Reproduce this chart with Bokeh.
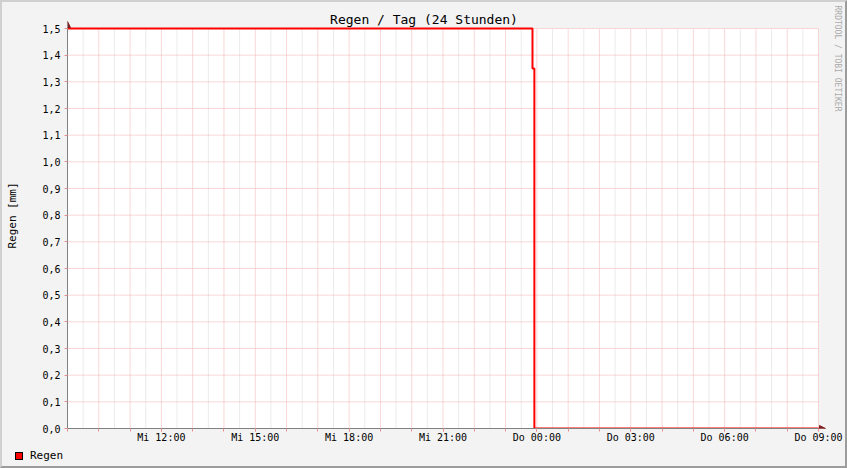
from bokeh.plotting import figure
from bokeh.layouts import column
from bokeh.models import (FixedTicker, Label, Arrow, NormalHead, Div,
                          ColumnDataSource, Range1d, BoxAnnotation)
from bokeh.embed import file_html
from bokeh.resources import INLINE

# ---- data (hours since Wednesday 00:00) ----
step_hours = [9.0, 23.86, 23.92, 33.0]
rain_mm = [1.5, 1.35, 0.0, 0.0]

x_start, x_end = 9, 33
y_start, y_end = 0.0, 1.5
x_tick_hours = [12, 15, 18, 21, 24, 27, 30, 33]
x_tick_labels = ["Mi 12:00", "Mi 15:00", "Mi 18:00", "Mi 21:00",
                 "Do 00:00", "Do 03:00", "Do 06:00", "Do 09:00"]
y_ticks = [0.0, 0.1, 0.2, 0.3, 0.4, 0.5, 0.6, 0.7, 0.8, 0.9, 1.0, 1.1, 1.2, 1.3, 1.4, 1.5]
y_tick_labels = ["0,0", "0,1", "0,2", "0,3", "0,4", "0,5", "0,6", "0,7",
                 "0,8", "0,9", "1,0", "1,1", "1,2", "1,3", "1,4", "1,5"]

title_text = "Regen / Tag (24 Stunden)"
y_label = "Regen [mm]"
series_name = "Regen"
series_color = "#ff0000"
watermark = "RRDTOOL / TOBI OETIKER"

FONT = "DejaVu Sans Mono"
BG = "#f3f3f3"
MAJOR_GRID = "#f2b0b0"
MINOR_GRID = "#d6d6d6"

W = 843
H1, H2 = 445, 19          # main chart, legend strip
LEFT, BOTTOM = 65, 19
FRAME_H = H1 - BOTTOM
PLOT_TOP_PX, PLOT_RIGHT_PX = 26, 816      # canvas px of y_end and x_end
px_per_h = (PLOT_RIGHT_PX - LEFT) / (x_end - x_start)
px_per_mm = (FRAME_H - PLOT_TOP_PX) / (y_end - y_start)
x_max = x_start + (W - LEFT) / px_per_h
y_max = y_start + FRAME_H / px_per_mm

p = figure(width=W, height=H1, output_backend="svg", toolbar_location=None,
           x_range=Range1d(x_start, x_max), y_range=Range1d(y_start, y_max),
           min_border_left=LEFT, min_border_right=0, min_border_top=0,
           min_border_bottom=BOTTOM, title=None)
p.border_fill_color = BG
p.background_fill_color = BG
p.outline_line_color = None
p.xgrid.visible = False
p.ygrid.visible = False

# white plotting area
p.add_layout(BoxAnnotation(left=x_start, right=x_end, bottom=y_start, top=y_end,
                           fill_color="white", fill_alpha=1, line_color=None,
                           level="underlay"))

# grid lines restricted to plotting area
hours_all = list(range(x_start, x_end + 1))
half_hours = [h + 0.5 for h in range(x_start, x_end)]
p.segment(x0=half_hours, x1=half_hours, y0=[y_start] * len(half_hours),
          y1=[y_end] * len(half_hours), line_color=MINOR_GRID, line_width=1, line_dash="1 1")
p.segment(x0=hours_all[1:], x1=hours_all[1:], y0=[y_start] * (len(hours_all) - 1),
          y1=[y_end] * (len(hours_all) - 1), line_color=MAJOR_GRID, line_width=1,
          line_dash="1 1")
p.segment(x0=[x_start] * (len(y_ticks) - 1), x1=[x_end] * (len(y_ticks) - 1),
          y0=y_ticks[1:], y1=y_ticks[1:], line_color=MAJOR_GRID, line_width=1,
          line_dash="1 1")

# x axis
p.xaxis.ticker = FixedTicker(ticks=x_tick_hours, minor_ticks=hours_all)
p.xaxis.major_label_overrides = {h: l for h, l in zip(x_tick_hours, x_tick_labels)}
p.xaxis.bounds = (x_start, x_end)
p.xaxis.axis_line_color = "#808080"
p.xaxis.major_tick_line_color = "#e89090"
p.xaxis.minor_tick_line_color = "#e89090"
p.xaxis.major_tick_in = 0
p.xaxis.major_tick_out = 3
p.xaxis.minor_tick_in = 0
p.xaxis.minor_tick_out = 3
p.xaxis.major_label_standoff = 0
p.xaxis.major_label_text_font = FONT
p.xaxis.major_label_text_font_size = "10px"
p.xaxis.major_label_text_color = "black"

# y axis
p.yaxis.ticker = FixedTicker(ticks=y_ticks)
p.yaxis.major_label_overrides = {t: l for t, l in zip(y_ticks, y_tick_labels)}
p.yaxis.bounds = (y_start, y_end)
p.yaxis.axis_line_color = "#808080"
p.yaxis.major_tick_line_color = "#e89090"
p.yaxis.minor_tick_line_color = None
p.yaxis.major_tick_in = 0
p.yaxis.major_tick_out = 3
p.yaxis.major_label_standoff = 4
p.yaxis.major_label_text_font = FONT
p.yaxis.major_label_text_font_size = "10px"
p.yaxis.major_label_text_color = "black"
p.yaxis.axis_label = y_label
p.yaxis.axis_label_text_font = FONT
p.yaxis.axis_label_text_font_size = "11px"
p.yaxis.axis_label_text_font_style = "normal"
p.yaxis.axis_label_text_color = "black"
p.yaxis.axis_label_text_line_height = 1.0
p.yaxis.axis_label_standoff = 20

# data line
src = ColumnDataSource(dict(x=step_hours, y=rain_mm))
p.step("x", "y", source=src, mode="after", line_color=series_color, line_width=2)

# arrows at axis ends
p.add_layout(Arrow(x_start=x_start, y_start=y_end, x_end=x_start, y_end=y_end + 7 / px_per_mm,
                   line_color="#808080", line_width=1,
                   end=NormalHead(size=6, fill_color="#802020", line_color="#802020")))
p.add_layout(Arrow(x_start=x_end, y_start=y_start, x_end=x_end + 7 / px_per_h, y_end=y_start,
                   line_color="#802020", line_width=1,
                   end=NormalHead(size=6, fill_color="#802020", line_color="#802020")))

# title and watermark (screen units from frame bottom-left)
p.add_layout(Label(x=421.5 - LEFT, y=FRAME_H - 17, x_units="screen", y_units="screen",
                   text=title_text, text_font=FONT, text_font_size="13px",
                   text_align="center", text_baseline="middle", text_color="black"))
p.add_layout(Label(x=835 - LEFT, y=FRAME_H - 3, x_units="screen", y_units="screen",
                   text=watermark, angle=-1.5708, text_font=FONT, text_font_size="8px",
                   text_align="left", text_baseline="middle", text_color="#aaaaaa"))

# legend strip
legend_html = (
    f'<div style="display:flex;align-items:center;height:{H2}px;padding-left:13px;'
    f'padding-bottom:2px;box-sizing:border-box;font-family:\'{FONT}\';font-size:11px;'
    f'color:black;background:{BG};">'
    f'<span style="display:inline-block;width:8px;height:8px;background:{series_color};'
    f'border:1px solid black;margin-right:7px;"></span>{series_name}</div>'
)
legend_div = Div(text=legend_html, width=W, height=H2, margin=0,
                 styles={"background-color": BG})

layout = column(p, legend_div, spacing=0)
layout.styles = {"border-top": "2px solid #d0d0d0", "border-left": "2px solid #d0d0d0",
                 "border-right": "2px solid #9c9c9c", "border-bottom": "2px solid #9c9c9c",
                 "background-color": BG}

open("out.html", "w").write(file_html(layout, INLINE))
